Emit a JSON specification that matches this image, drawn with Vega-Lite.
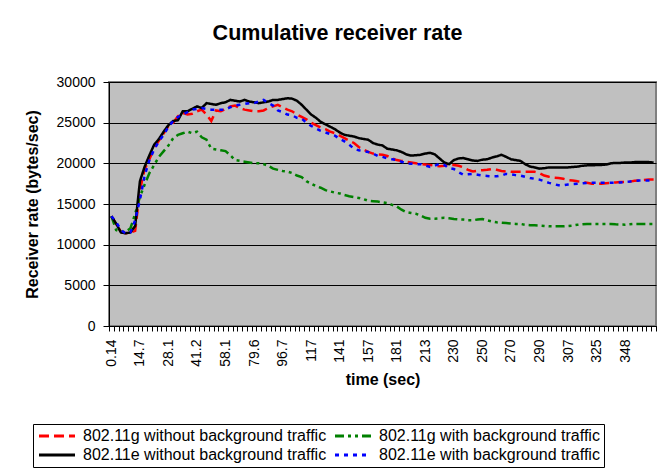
{
  "$schema": "https://vega.github.io/schema/vega-lite/v6.json",
  "width": 547,
  "height": 244,
  "autosize": {"type": "none"},
  "padding": {"left": 109, "top": 82, "right": 2, "bottom": 144},
  "background": "white",
  "title": {"text": "Cumulative receiver rate", "fontSize": 21.5, "fontWeight": "bold", "color": "black", "anchor": "middle", "frame": "group", "dx": -45, "offset": 31},
  "datasets": {
    "names": [
      {"key": "a", "name": "802.11g without background traffic"},
      {"key": "b", "name": "802.11g with background traffic"},
      {"key": "c", "name": "802.11e without background traffic"},
      {"key": "d", "name": "802.11e with background traffic"}
    ],
    "rates": [
      {"t": 0.14, "a": 13500, "b": 13500, "c": 13500, "d": 13500},
      {"t": 2.57, "a": 12500, "b": 11800, "c": 12600, "d": 12800},
      {"t": 5.0, "a": 11600, "b": 11600, "c": 11500, "d": 11800},
      {"t": 7.42, "a": 11400, "b": 11600, "c": 11400, "d": 11400},
      {"t": 9.85, "a": 11500, "b": 12000, "c": 11500, "d": 11500},
      {"t": 12.3, "a": 11700, "b": 13800, "c": 12300, "d": 13000},
      {"t": 14.7, "a": 16700, "b": 15900, "c": 17800, "d": 15500},
      {"t": 16.9, "a": 19300, "b": 17400, "c": 19600, "d": 18500},
      {"t": 19.2, "a": 20500, "b": 18800, "c": 21000, "d": 20400},
      {"t": 21.4, "a": 21900, "b": 19800, "c": 22300, "d": 21700},
      {"t": 23.6, "a": 22800, "b": 20800, "c": 23000, "d": 22700},
      {"t": 25.9, "a": 23700, "b": 21500, "c": 23900, "d": 23500},
      {"t": 28.1, "a": 24600, "b": 22200, "c": 24700, "d": 24500},
      {"t": 30.3, "a": 25000, "b": 23100, "c": 25200, "d": 25200},
      {"t": 32.5, "a": 25800, "b": 23500, "c": 25300, "d": 25700},
      {"t": 34.7, "a": 26200, "b": 23700, "c": 26400, "d": 26000},
      {"t": 36.8, "a": 26000, "b": 23900, "c": 26400, "d": 26300},
      {"t": 39.0, "a": 26100, "b": 23700, "c": 26700, "d": 26600},
      {"t": 41.2, "a": 26400, "b": 23900, "c": 27000, "d": 26700},
      {"t": 44.0, "a": 26600, "b": 23200, "c": 26800, "d": 26800},
      {"t": 46.8, "a": 26000, "b": 22900, "c": 27400, "d": 26700},
      {"t": 49.7, "a": 25200, "b": 21800, "c": 27300, "d": 26600},
      {"t": 52.5, "a": 26500, "b": 21700, "c": 27200, "d": 26600},
      {"t": 55.3, "a": 26400, "b": 21600, "c": 27400, "d": 26600},
      {"t": 58.1, "a": 26700, "b": 21500, "c": 27500, "d": 26600},
      {"t": 61.7, "a": 27000, "b": 21000, "c": 27800, "d": 26900},
      {"t": 65.3, "a": 27100, "b": 20400, "c": 27700, "d": 27100},
      {"t": 68.8, "a": 26800, "b": 20300, "c": 27600, "d": 27200},
      {"t": 72.4, "a": 26600, "b": 20200, "c": 27800, "d": 27300},
      {"t": 76.0, "a": 26500, "b": 20100, "c": 27600, "d": 27400},
      {"t": 79.6, "a": 26400, "b": 20000, "c": 27500, "d": 27400},
      {"t": 82.5, "a": 26400, "b": 20000, "c": 27400, "d": 27600},
      {"t": 85.3, "a": 26500, "b": 19900, "c": 27500, "d": 27800},
      {"t": 88.2, "a": 26800, "b": 19700, "c": 27600, "d": 27400},
      {"t": 91.0, "a": 27000, "b": 19350, "c": 27800, "d": 27100},
      {"t": 93.9, "a": 27200, "b": 19200, "c": 27800, "d": 26500},
      {"t": 96.7, "a": 26900, "b": 19050, "c": 27900, "d": 26300},
      {"t": 100, "a": 26600, "b": 19000, "c": 28000, "d": 26000},
      {"t": 103, "a": 26400, "b": 18800, "c": 27950, "d": 25900},
      {"t": 107, "a": 26000, "b": 18500, "c": 27700, "d": 25600},
      {"t": 110, "a": 25700, "b": 18300, "c": 27200, "d": 25500},
      {"t": 114, "a": 25400, "b": 17800, "c": 26600, "d": 25000},
      {"t": 117, "a": 25000, "b": 17500, "c": 26000, "d": 24600},
      {"t": 121, "a": 24700, "b": 17200, "c": 25600, "d": 24300},
      {"t": 125, "a": 24400, "b": 17000, "c": 25100, "d": 24000},
      {"t": 129, "a": 24200, "b": 16700, "c": 24800, "d": 23800},
      {"t": 133, "a": 23900, "b": 16550, "c": 24500, "d": 23600},
      {"t": 137, "a": 23700, "b": 16400, "c": 24200, "d": 23400},
      {"t": 141, "a": 23400, "b": 16300, "c": 23800, "d": 23000},
      {"t": 144, "a": 23100, "b": 16100, "c": 23500, "d": 22700},
      {"t": 146, "a": 22800, "b": 15950, "c": 23400, "d": 22300},
      {"t": 149, "a": 22500, "b": 15850, "c": 23300, "d": 21800},
      {"t": 152, "a": 22000, "b": 15750, "c": 23100, "d": 21600},
      {"t": 154, "a": 21700, "b": 15600, "c": 23000, "d": 21500},
      {"t": 157, "a": 21400, "b": 15400, "c": 22900, "d": 21400},
      {"t": 161, "a": 21200, "b": 15350, "c": 22500, "d": 21200},
      {"t": 165, "a": 21100, "b": 15300, "c": 22300, "d": 20900},
      {"t": 169, "a": 21050, "b": 15200, "c": 22200, "d": 20800},
      {"t": 173, "a": 20900, "b": 15100, "c": 21800, "d": 20600},
      {"t": 177, "a": 20600, "b": 14900, "c": 21700, "d": 20500},
      {"t": 181, "a": 20400, "b": 14700, "c": 21600, "d": 20400},
      {"t": 186, "a": 20300, "b": 14300, "c": 21400, "d": 20200},
      {"t": 192, "a": 20200, "b": 14000, "c": 21100, "d": 20000},
      {"t": 197, "a": 20100, "b": 13900, "c": 20950, "d": 19950},
      {"t": 202, "a": 20000, "b": 13800, "c": 21000, "d": 19900},
      {"t": 208, "a": 19900, "b": 13600, "c": 21050, "d": 19900},
      {"t": 213, "a": 19850, "b": 13300, "c": 21200, "d": 19750},
      {"t": 216, "a": 19800, "b": 13200, "c": 21300, "d": 19550},
      {"t": 219, "a": 19700, "b": 13200, "c": 21100, "d": 19700},
      {"t": 222, "a": 19650, "b": 13250, "c": 20600, "d": 19950},
      {"t": 224, "a": 19700, "b": 13300, "c": 20100, "d": 19800},
      {"t": 227, "a": 19800, "b": 13250, "c": 19900, "d": 19400},
      {"t": 230, "a": 19800, "b": 13150, "c": 20400, "d": 19300},
      {"t": 233, "a": 19700, "b": 13100, "c": 20600, "d": 18900},
      {"t": 237, "a": 19500, "b": 13080, "c": 20650, "d": 18600},
      {"t": 240, "a": 19200, "b": 13000, "c": 20500, "d": 18650},
      {"t": 243, "a": 19000, "b": 13000, "c": 20350, "d": 18700},
      {"t": 247, "a": 19100, "b": 13100, "c": 20300, "d": 18600},
      {"t": 250, "a": 19150, "b": 13160, "c": 20450, "d": 18500},
      {"t": 253, "a": 19200, "b": 13000, "c": 20500, "d": 18450},
      {"t": 257, "a": 19300, "b": 12850, "c": 20700, "d": 18400},
      {"t": 260, "a": 19200, "b": 12750, "c": 20850, "d": 18400},
      {"t": 263, "a": 19050, "b": 12700, "c": 21050, "d": 18500},
      {"t": 267, "a": 19000, "b": 12650, "c": 20800, "d": 18700},
      {"t": 270, "a": 18950, "b": 12600, "c": 20500, "d": 18650},
      {"t": 273, "a": 18950, "b": 12550, "c": 20400, "d": 18550},
      {"t": 277, "a": 18950, "b": 12550, "c": 20300, "d": 18500},
      {"t": 280, "a": 18950, "b": 12450, "c": 19900, "d": 18350},
      {"t": 283, "a": 18950, "b": 12400, "c": 19600, "d": 18200},
      {"t": 287, "a": 18950, "b": 12380, "c": 19500, "d": 18100},
      {"t": 290, "a": 18800, "b": 12350, "c": 19350, "d": 18000},
      {"t": 293, "a": 18500, "b": 12300, "c": 19400, "d": 17800},
      {"t": 296, "a": 18350, "b": 12250, "c": 19500, "d": 17600},
      {"t": 299, "a": 18250, "b": 12250, "c": 19500, "d": 17450},
      {"t": 301, "a": 18200, "b": 12250, "c": 19500, "d": 17300},
      {"t": 304, "a": 18100, "b": 12250, "c": 19500, "d": 17300},
      {"t": 307, "a": 17950, "b": 12300, "c": 19500, "d": 17400},
      {"t": 310, "a": 17900, "b": 12350, "c": 19550, "d": 17450},
      {"t": 313, "a": 17800, "b": 12450, "c": 19600, "d": 17500},
      {"t": 316, "a": 17750, "b": 12500, "c": 19700, "d": 17550},
      {"t": 319, "a": 17600, "b": 12550, "c": 19750, "d": 17600},
      {"t": 322, "a": 17500, "b": 12550, "c": 19750, "d": 17600},
      {"t": 325, "a": 17450, "b": 12550, "c": 19800, "d": 17600},
      {"t": 329, "a": 17500, "b": 12550, "c": 19800, "d": 17600},
      {"t": 333, "a": 17550, "b": 12550, "c": 19850, "d": 17600},
      {"t": 337, "a": 17600, "b": 12550, "c": 20000, "d": 17600},
      {"t": 340, "a": 17650, "b": 12500, "c": 20050, "d": 17600},
      {"t": 344, "a": 17700, "b": 12480, "c": 20050, "d": 17650},
      {"t": 348, "a": 17700, "b": 12460, "c": 20100, "d": 17700},
      {"t": 352, "a": 17750, "b": 12500, "c": 20100, "d": 17750},
      {"t": 355, "a": 17850, "b": 12550, "c": 20150, "d": 17850},
      {"t": 358, "a": 17900, "b": 12550, "c": 20150, "d": 17900},
      {"t": 361, "a": 17950, "b": 12550, "c": 20150, "d": 17900},
      {"t": 364, "a": 18000, "b": 12550, "c": 20150, "d": 17900},
      {"t": 367, "a": 18000, "b": 12550, "c": 20100, "d": 17900}
    ]
  },
  "data": {"name": "rates"},
  "transform": [
    {"fold": ["a", "b", "c", "d"], "as": ["key", "rate"]},
    {"lookup": "key", "from": {"data": {"name": "names"}, "key": "key", "fields": ["name"]}}
  ],
  "mark": {"type": "line", "strokeWidth": 2.5, "clip": true},
  "encoding": {
    "x": {
      "field": "t",
      "type": "ordinal",
      "bandPosition": 0.5,
      "scale": {"type": "band", "paddingInner": 0, "paddingOuter": 0},
      "axis": {
        "title": "time (sec)",
        "titleFontSize": 16,
        "titleFontWeight": "bold",
        "titleColor": "black",
        "titlePadding": 5,
        "labelAngle": -90,
        "labelFontSize": 14,
        "labelColor": "black",
        "labelPadding": 8,
        "labelOverlap": false,
        "labelExpr": "(round(datum.index * 114) % 6 === 0 && datum.index < 0.99) ? datum.label : ''",
        "tickBand": "extent",
        "tickSize": 5,
        "tickColor": "black",
        "domainColor": "black",
        "grid": false
      }
    },
    "y": {
      "field": "rate",
      "type": "quantitative",
      "scale": {"domain": [0, 30000]},
      "axis": {
        "title": "Receiver rate (bytes/sec)",
        "titleFontSize": 16,
        "titleFontWeight": "bold",
        "titleColor": "black",
        "titlePadding": 16,
        "values": [0, 5000, 10000, 15000, 20000, 25000, 30000],
        "format": "d",
        "labelFontSize": 14,
        "labelColor": "black",
        "labelPadding": 8,
        "tickSize": 6,
        "tickColor": "black",
        "domainColor": "black",
        "grid": true,
        "gridColor": "black",
        "gridWidth": 1
      }
    },
    "color": {
      "field": "name",
      "type": "nominal",
      "scale": {
        "domain": ["802.11g without background traffic", "802.11g with background traffic", "802.11e without background traffic", "802.11e with background traffic"],
        "range": ["#FF0000", "#008000", "#000000", "#0000FF"]
      },
      "legend": {"title": null, "orient": "none", "legendX": -76, "legendY": 342, "columns": 2, "direction": "horizontal"}
    },
    "strokeDash": {
      "field": "name",
      "type": "nominal",
      "scale": {
        "domain": ["802.11g without background traffic", "802.11g with background traffic", "802.11e without background traffic", "802.11e with background traffic"],
        "range": [[10, 5], [9, 4, 3, 4, 3, 4], [1, 0], [4, 5]]
      },
      "legend": {"title": null, "orient": "none", "legendX": -76, "legendY": 342, "columns": 2, "direction": "horizontal"}
    }
  },
  "config": {
    "font": "Liberation Sans",
    "view": {"fill": "#C0C0C0", "stroke": "#808080", "strokeWidth": 2},
    "legend": {
      "strokeColor": "black",
      "fillColor": "white",
      "padding": 4,
      "labelFontSize": 16,
      "labelColor": "black",
      "labelLimit": 400,
      "symbolType": "M-1,0H5",
      "symbolSize": 144,
      "symbolStrokeWidth": 3,
      "labelOffset": 30,
      "columnPadding": 2,
      "rowPadding": 3
    }
  }
}
